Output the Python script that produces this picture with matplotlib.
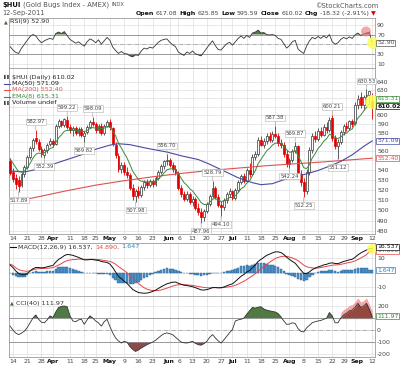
import numpy as np
import pandas as pd
import matplotlib
matplotlib.use('Agg')
import matplotlib.pyplot as plt
from matplotlib.patches import Ellipse
from matplotlib.transforms import ScaledTranslation
from matplotlib.ticker import FixedLocator, FixedFormatter, NullLocator

plt.rcParams['font.family'] = 'DejaVu Sans'

# trading days shown (US market holidays taken out)
holidays = ['2011-04-22', '2011-05-30', '2011-07-04', '2011-09-05']
days = pd.bdate_range('2011-03-11', '2011-09-12').drop(pd.to_datetime(holidays))

tick_dates = ['2011-03-14', '2011-03-21', '2011-03-28', '2011-04-01', '2011-04-11', '2011-04-18',
              '2011-04-25', '2011-05-02', '2011-05-09', '2011-05-16', '2011-05-23', '2011-06-01',
              '2011-06-06', '2011-06-13', '2011-06-20', '2011-06-27', '2011-07-01', '2011-07-11',
              '2011-07-18', '2011-07-25', '2011-08-01', '2011-08-08', '2011-08-15', '2011-08-22',
              '2011-08-29', '2011-09-01', '2011-09-12']
tick_text = ['14', '21', '28', 'Apr', '11', '18', '25', 'May', '9', '16', '23', 'Jun', '6', '13', '20',
             '27', 'Jul', '11', '18', '25', 'Aug', '8', '15', '22', '29', 'Sep', '12']

opens = [549, 538, 532, 530, 525, 536, 543, 554, 563, 574,
         570, 562, 556, 561, 568, 571, 568, 588, 593, 589,
         594, 586, 583, 585, 580, 584, 577, 581, 587, 592,
         590, 583, 588, 580, 588, 592, 585, 567, 555, 541,
         545, 538, 535, 522, 514, 519, 515, 523, 528, 525,
         529, 526, 532, 538, 544, 549, 551, 545, 541, 537,
         522, 516, 511, 516, 508, 511, 502, 498, 493, 499,
         506, 514, 522, 513, 505, 503, 510, 516, 519, 512,
         520, 528, 534, 529, 540, 536, 554, 557, 572, 567,
         571, 577, 572, 579, 576, 569, 567, 557, 546, 550,
         560, 565, 536, 528, 519, 538, 561, 577, 573, 582,
         578, 587, 583, 597, 574, 566, 570, 581, 588, 585,
         593, 591, 612, 621, 612, 622, 624, 617.08]
highs = [553, 542, 536, 534, 538, 545, 556, 566, 574, 582.97,
         573, 565, 563, 569, 574, 573, 590, 596, 595, 597,
         599.22, 590, 588, 588, 586, 587, 582, 589, 594, 598.09,
         592, 590, 591, 590, 595, 596, 587, 570, 558, 548,
         548, 543, 537, 526, 521, 524, 525, 530, 531, 531,
         531, 534, 540, 546, 551, 556.70, 553, 548, 545, 539,
         525, 519, 519, 518, 514, 513, 507, 502, 501, 508,
         516, 528.79, 524, 516, 509, 512, 518, 522, 520, 522,
         530, 536, 537, 542, 547, 557, 560, 575, 576, 574,
         580, 581, 582, 587.38, 580, 573, 570, 561, 553, 562,
         569.87, 567, 540, 532, 541, 564, 580, 582, 585, 586,
         590, 592, 598, 600.21, 578, 573, 583, 590, 592, 595,
         596, 615, 624, 627, 624, 630.53, 629, 625.85]
lows = [535, 528, 521, 517.89, 523, 533, 541, 552, 560, 568,
        560, 554, 552.39, 558, 566, 564, 567, 585, 586, 587,
        584, 580, 577, 578, 577, 575, 569.82, 579, 585, 588,
        580, 580, 578, 578, 586, 583, 566, 553, 538, 537,
        535, 532, 520, 510, 507.98, 512, 513, 520, 522, 523,
        523, 524, 530, 536, 541, 545, 543, 538, 535, 520,
        513, 509, 509, 506, 504, 500, 495, 487.96, 490, 497,
        504, 512, 511, 503, 494.10, 500, 507, 513, 510, 510,
        518, 526, 527, 528, 533, 535, 550, 555, 565, 563,
        568, 570, 570, 574, 566, 563, 554, 543, 542.24, 548,
        558, 533, 524, 512.25, 516, 535, 558, 570, 571, 575,
        576, 580, 581, 571, 562, 551.12, 568, 578, 582, 583,
        586, 589, 607, 608, 606, 615, 616, 595.59]
closes = [537, 531, 526, 524, 536, 543, 554, 563, 572, 571,
          562, 557, 561, 567, 571, 568, 588, 593, 589, 596,
          586, 583, 585, 580, 584, 578, 580, 587, 592, 590,
          583, 588, 580, 588, 592, 586, 568, 556, 541, 545,
          538, 535, 522, 514, 519, 515, 523, 528, 525, 529,
          526, 532, 538, 544, 549, 551, 545, 541, 537, 522,
          516, 511, 516, 508, 511, 502, 498, 493, 499, 506,
          514, 522, 513, 505, 503, 510, 516, 519, 512, 520,
          528, 534, 529, 540, 536, 554, 557, 572, 567, 571,
          577, 572, 579, 576, 569, 567, 557, 546, 550, 560,
          566, 536, 528, 519, 538, 561, 577, 573, 582, 578,
          587, 583, 595, 574, 566, 570, 581, 588, 585, 593,
          590, 612, 619, 612, 621, 624, 628.34, 610.02]

ema_start = 556.0  # EMA(8) level just before the first bar

ma50_idx = [0, 5, 10, 15, 20, 25, 30, 35, 38, 42, 48, 55, 60, 66, 70, 75, 80, 85, 88, 92,
            96, 100, 104, 108, 112, 116, 120, 124, 127]
ma50 = [539, 538, 541, 546, 551, 556, 562, 566.5, 568, 567, 563, 559, 555, 551, 546, 539,
        532, 527, 525, 526, 530, 533, 536, 539.5, 544, 549, 556, 565, 571.09]
ma200_idx = [0, 10, 20, 30, 40, 50, 60, 70, 80, 90, 100, 110, 120, 127]
ma200 = [507, 513, 519, 524.5, 529, 533, 536.5, 539.5, 542, 544.5, 546.5, 548.5, 550.8, 552.4]

rsi = [45, 38, 33, 31, 42, 50, 58, 66, 70, 67,
       59, 53, 57, 60, 62, 60, 72, 75, 72, 76,
       68, 60, 56, 52, 55, 50, 46, 55, 61, 58,
       53, 59, 50, 57, 64, 58, 44, 37, 31, 35,
       31, 30, 26, 24, 28, 27, 36, 42, 40, 44,
       42, 48, 54, 58, 60, 61, 54, 49, 45, 34,
       30, 27, 34, 31, 36, 30, 28, 26, 34, 42,
       50, 57, 47, 39, 38, 45, 51, 54, 48, 55,
       62, 67, 62, 68, 64, 73, 75, 79, 73, 74,
       70, 69, 70, 68, 62, 60, 51, 42, 47, 55,
       58, 40, 35, 31, 46, 57, 64, 61, 66, 62,
       67, 63, 70, 55, 50, 53, 60, 64, 61, 65,
       62, 69, 73, 68, 71, 73, 75, 52.90]

macd = [5.4, 3.6, 1.2, -0.5, -1.3, -1.4, -0.6, 1.2, 2.8, 3.6,
        3.6, 3.4, 3.6, 4.1, 4.6, 5.0, 7.3, 9.2, 10.4, 11.8,
        12.6, 12.4, 12.0, 11.3, 10.6, 9.7, 8.9, 8.9, 9.1, 9.1,
        8.7, 8.5, 7.8, 7.4, 7.1, 6.0, 3.6, 0.6, -2.5, -4.0,
        -5.8, -7.3, -9.4, -11.5, -12.6, -13.6, -13.9, -14.1, -14.0, -13.5,
        -12.9, -12.0, -10.8, -9.6, -8.6, -7.6, -7.0, -6.5, -6.4, -7.2,
        -7.9, -8.6, -8.8, -9.2, -9.6, -10.3, -11.0, -11.8, -11.9, -11.6,
        -11.0, -10.2, -10.2, -10.4, -10.3, -9.8, -9.0, -8.2, -7.6, -6.0,
        -4.2, -2.4, -1.2, 0.5, 1.5, 3.5, 5.4, 7.8, 9.2, 10.6,
        12.0, 12.8, 13.7, 14.4, 14.4, 13.9, 12.6, 10.7, 9.2, 7.8,
        6.6, 4.2, 1.8, -0.4, -0.6, 0.6, 2.2, 3.1, 4.0, 4.6,
        5.4, 5.8, 6.6, 6.8, 6.4, 6.3, 7.0, 7.8, 8.3, 8.9,
        9.3, 10.6, 12.3, 13.6, 14.7, 15.6, 16.6, 16.537]
macd_hist = [-0.5, -1.5, -2.2, -2.7, -2.8, -2.6, -1.6, -0.2, 0.8, 1.0,
             0.8, 0.5, 0.6, 1.0, 1.3, 1.5, 2.9, 3.8, 4.1, 4.3,
             4.2, 3.6, 2.9, 2.1, 1.2, 0.3, -0.3, -0.3, -0.2, -0.2,
             -0.5, -0.6, -1.0, -1.1, -1.1, -1.8, -3.4, -5.3, -6.8, -6.9,
             -7.3, -7.3, -7.7, -7.9, -7.1, -6.3, -5.0, -3.8, -2.7, -1.6,
             -0.7, 0.3, 1.4, 2.2, 2.6, 3.0, 2.9, 2.7, 2.2, 1.1,
             0.2, -0.4, -0.5, -0.7, -0.9, -1.2, -1.6, -2.0, -1.8, -1.3,
             -0.6, 0.1, 0.0, -0.2, 0.0, 0.4, 0.9, 1.4, 1.6, 2.6,
             3.6, 4.4, 4.6, 5.2, 4.8, 5.6, 6.0, 6.7, 6.6, 6.4,
             6.2, 5.6, 5.2, 4.6, 3.8, 2.8, 1.2, -0.6, -1.6, -2.4,
             -2.8, -4.2, -5.0, -5.6, -4.8, -3.0, -1.2, -0.1, 0.7, 1.0,
             1.4, 1.4, 1.8, 1.6, 1.0, 0.8, 1.2, 1.6, 1.6, 1.8,
             1.8, 2.4, 3.2, 3.4, 3.5, 3.2, 2.1, 1.647]

cci = [33, 0, -25, -37, -25, -8, 20, 61, 100, 126,
       90, 65, 61, 85, 118, 104, 150, 188, 197, 200,
       194, 118, 76, 70, 85, 90, 48, 85, 118, 100,
       76, 60, 33, 70, 90, 30, -23, -65, -90, -107,
       -93, -100, -135, -160, -177, -165, -149, -135, -121, -110,
       -99, -85, -65, -45, -30, -23, -30, -37, -59, -80,
       -99, -105, -107, -100, -93, -110, -121, -125, -112, -93,
       -60, -37, -65, -90, -107, -80, -51, -20, 5, 76,
       85, 90, 100, 132, 160, 188, 183, 190, 194, 175,
       166, 160, 155, 150, 138, 110, 76, 48, 50, 61,
       55, 13, -10, -15, 19, 40, 61, 70, 76, 80,
       90, 98, 146, 118, 61, 61, 100, 126, 140, 160,
       166, 190, 222, 188, 200, 222, 172, 111.97]

# marked highs / lows on the price panel
ann_idx = [3, 9, 12, 20, 26, 29, 44, 55, 67, 71, 74, 93, 98, 100, 103, 113, 115, 125]
ann_side = ['low', 'high', 'low', 'high', 'low', 'high', 'low', 'high', 'low', 'high', 'low',
            'high', 'low', 'high', 'low', 'high', 'low', 'high']

W, H = 400, 365
fig = plt.figure(figsize=(W / 100, H / 100), dpi=100)
rend = fig.canvas.get_renderer()


def fx(x):
    return x / W


def fy(y):
    return 1 - y / H


def run_text(x0, y0, pieces, size, gap=0.0, right=None):
    # lay text pieces side by side, starting at x0 (or ending at `right`)
    arts = []
    for p in pieces:
        txt, col, bold = p[:3]
        sz = p[3] if len(p) > 3 else size
        arts.append(fig.text(0, fy(y0), txt, fontsize=sz, color=col, va='center', ha='left',
                             fontweight='bold' if bold else 'normal'))
    widths = [a.get_window_extent(renderer=rend).width for a in arts]
    if right is not None:
        x0 = right - sum(widths) - gap * (len(arts) - 1)
    xx = x0
    for a, w in zip(arts, widths):
        a.set_x(fx(xx))
        xx += w + gap


x = np.arange(len(days))
o, hi, lo, c = (np.array(v, dtype=float) for v in (opens, highs, lows, closes))
tick_pos = days.get_indexer(pd.to_datetime(tick_dates))

ax_rsi = fig.add_axes([fx(9), fy(68), 366 / W, 50 / H])
ax_px = fig.add_axes([fx(9), fy(234), 366 / W, 166 / H])
ax_macd = fig.add_axes([fx(9), fy(296), 366 / W, 53 / H])
ax_cci = fig.add_axes([fx(9), fy(357), 366 / W, 61 / H])

GRID = '#dedede'
for ax in (ax_rsi, ax_px, ax_macd, ax_cci):
    ax.set_xlim(-0.4, 128)
    ax.xaxis.set_major_locator(FixedLocator(tick_pos))
    ax.xaxis.set_major_formatter(FixedFormatter(tick_text))
    ax.yaxis.tick_right()
    ax.tick_params(length=0, labelsize=4.4, labelcolor='#444', pad=1.5)
    ax.tick_params(axis='x', labelbottom=False)
    ax.grid(True, color=GRID, lw=0.5)
    ax.set_axisbelow(True)
    for s in ax.spines.values():
        s.set_color('#9a9a9a')
        s.set_linewidth(0.6)

nudge = {'29': -1.8, 'Sep': 2.2, 'Jun': -1.0, '6': 1.0}
for ax in (ax_px, ax_cci):
    ax.tick_params(axis='x', labelbottom=True, pad=1.2)
    for lab, t in zip(ax.get_xticklabels(), tick_text):
        if not t.isdigit():
            lab.set_fontweight('bold')
            lab.set_color('#111')
    labs = ax.get_xticklabels()
    for k in (11, 12, 24, 25):
        labs[k].set_transform(labs[k].get_transform() +
                              ScaledTranslation(nudge[tick_text[k]] / 100, 0, fig.dpi_scale_trans))


def tag(ax, yv, text, col, bold=False, z=6):
    ax.text(1.006, yv, text, transform=ax.get_yaxis_transform(), fontsize=4.4, color=col,
            va='center', ha='left', fontweight='bold' if bold else 'normal', clip_on=False, zorder=z,
            bbox=dict(boxstyle='square,pad=0.12', fc='white', ec=col, lw=0.5))


def glow(ax, cx, cy, r, col, a):
    e = Ellipse((fx(cx), fy(cy)), 2 * r / W, 2 * r / H, transform=fig.transFigure,
                fc=col, ec='none', alpha=a, clip_on=False, zorder=5)
    ax.add_artist(e)


# ---- RSI
rsi_a = np.array(rsi)
ax_rsi.set_ylim(1, 104)
ax_rsi.yaxis.set_major_locator(FixedLocator([10, 30, 50, 70, 90]))
ax_rsi.yaxis.set_major_formatter(FixedFormatter(['10', '30', '', '70', '90']))
ax_rsi.axhline(70, color='#8c8c8c', lw=0.6)
ax_rsi.axhline(30, color='#8c8c8c', lw=0.6)
ax_rsi.axhline(50, color='#9a9a9a', lw=0.5, ls='-.')
ax_rsi.fill_between(x, rsi_a, 70, where=rsi_a > 70, interpolate=True, color='#4f7a43', lw=0)
ax_rsi.fill_between(x, rsi_a, 30, where=rsi_a < 30, interpolate=True, color='#8d4a48', lw=0)
ax_rsi.plot(x, rsi_a, color='#333', lw=0.6)
fig.text(fx(4), fy(21.5), '\u25b2', fontsize=3.5, color='#3d6b35', va='center')
fig.text(fx(10), fy(21.5), 'RSI(9) 52.90', fontsize=4.6, color='#333', va='center')
glow(ax_rsi, 366, 31.5, 5, '#f07a7a', 0.65)
glow(ax_rsi, 373, 43, 6, '#ffff55', 0.85)
tag(ax_rsi, 52.9, '52.90', '#555')

# ---- price
ax_px.set_yscale('log')
ax_px.set_ylim(477.5, 657)
yt = list(range(480, 641, 10))
ax_px.yaxis.set_major_locator(FixedLocator(yt))
ax_px.yaxis.set_minor_locator(NullLocator())
ax_px.yaxis.set_major_formatter(FixedFormatter(['' if v in (550, 570, 610, 620) else str(v) for v in yt]))

up = c >= o
wick_col = np.where(up, '#444', '#e00000')
ax_px.vlines(x, lo, hi, colors=wick_col, lw=0.6, zorder=2)
ax_px.bar(x[up], c[up] - o[up], bottom=o[up], width=0.66, facecolor='white', edgecolor='#333',
          lw=0.5, zorder=3)
ax_px.bar(x[~up], o[~up] - c[~up], bottom=c[~up], width=0.66, facecolor='#e00000', edgecolor='#e00000',
          lw=0.5, zorder=3)

ema = []
prev = ema_start
for v in c:
    prev = prev + 2.0 / 9.0 * (v - prev)
    ema.append(prev)

ax_px.plot(ma200_idx, ma200, color='#e05050', lw=0.8, zorder=4)
ax_px.plot(ma50_idx, ma50, color='#4a4aa0', lw=0.8, zorder=4)
ax_px.plot(x, ema, color='#3a8a3a', lw=0.7, zorder=4)

for i, side in zip(ann_idx, ann_side):
    val = hi[i] if side == 'high' else lo[i]
    dy = 6 if side == 'high' else -6
    ax_px.annotate('%.2f' % val, xy=(i, val), xytext=(0, dy), textcoords='offset points',
                   ha='center', va='center', fontsize=3.8, color='#444', zorder=5,
                   bbox=dict(boxstyle='square,pad=0.15', fc='white', ec='#b0b0b0', lw=0.4),
                   arrowprops=dict(arrowstyle='-', color='#999', lw=0.4, shrinkA=0, shrinkB=0))

leg_rows = [(77, '$HUI (Daily) 610.02', '#222', None),
            (83.5, 'MA(50) 571.09', '#222', '#4a4aa0'),
            (90, 'MA(200) 552.40', '#e05050', '#e05050'),
            (96.5, 'EMA(8) 615.31', '#3a8a3a', '#3a8a3a'),
            (103, 'Volume undef', '#222', None)]
for yy, txt, tc, lc in leg_rows:
    fig.text(fx(12), fy(yy), txt, fontsize=4.6, color=tc, va='center', ha='left')
    if lc:
        fig.add_artist(plt.Line2D([fx(4), fx(10)], [fy(yy), fy(yy)], color=lc, lw=0.8))
    else:
        fig.text(fx(4), fy(yy), '\u258c\u258c', fontsize=3, color='#444', va='center', ha='left')

glow(ax_px, 372, 102, 7, '#ffff55', 0.85)
tag(ax_px, 619, '615.31', '#3a8a3a')
tag(ax_px, 610.5, '610.02', '#111', bold=True)
tag(ax_px, 571.09, '571.09', '#4a4aa0')
tag(ax_px, 552.4, '552.40', '#e05050')

# ---- MACD
m = np.array(macd)
hgt = np.array(macd_hist)
sig = m - hgt
ax_macd.set_ylim(-16, 20.5)
ax_macd.yaxis.set_major_locator(FixedLocator([-10, 0, 10]))
ax_macd.yaxis.set_major_formatter(FixedFormatter(['-10', '', '10']))
ax_macd.bar(x, hgt, width=0.85, color='#4a92c9', edgecolor='#2b5f8e', lw=0.3, zorder=2)
ax_macd.plot(x, sig, color='#e04848', lw=0.7, zorder=3)
ax_macd.plot(x, m, color='#111', lw=0.7, zorder=3)
fig.add_artist(plt.Line2D([fx(10), fx(16)], [fy(247), fy(247)], color='#111', lw=0.8))
run_text(18, 247, [('MACD(12,26,9) 16.537,', '#333', False), ('14.890,', '#e04848', False),
                   ('1.647', '#2f86b8', False)], 4.6, gap=2.5)
glow(ax_macd, 372, 249, 5, '#ffff55', 0.85)
tag(ax_macd, 15.3, '14.890', '#e04848', z=6)
tag(ax_macd, 17.8, '16.537', '#111', z=7)
tag(ax_macd, 1.9, '1.647', '#2f86b8')

# ---- CCI
cc = np.array(cci, dtype=float)
ax_cci.set_ylim(-223, 283)
ax_cci.yaxis.set_major_locator(FixedLocator([-200, -100, 0, 100, 200]))
ax_cci.yaxis.set_major_formatter(FixedFormatter(['-200', '-100', '0', '', '200']))
ax_cci.axhline(100, color='#8c8c8c', lw=0.6)
ax_cci.axhline(-100, color='#8c8c8c', lw=0.6)
ax_cci.axhline(0, color='#9a9a9a', lw=0.5, ls='-.')
late = x >= 116
ax_cci.fill_between(x[late], 95, cc[late] + 45, color='#f08a8a', alpha=0.75, lw=0, zorder=1)
ax_cci.fill_between(x, cc, 100, where=(cc > 100) & ~late, interpolate=True, color='#4f7a43', lw=0)
ax_cci.fill_between(x, cc, 100, where=(cc > 100) & (x >= 115), interpolate=True, color='#94483f', lw=0)
ax_cci.fill_between(x, cc, -100, where=cc < -100, interpolate=True, color='#8d4a48', lw=0)
ax_cci.plot(x, cc, color='#333', lw=0.6, zorder=3)
fig.text(fx(10), fy(303), '\u25b2', fontsize=3.5, color='#3d6b35', va='center')
fig.text(fx(16), fy(303), 'CCI(40) 111.97', fontsize=4.6, color='#333', va='center')
tag(ax_cci, 115, '111.97', '#3a8a3a')

# ---- header
run_text(2, 5, [('$HUI', '#111', True), ('(Gold Bugs Index - AMEX)', '#555', False),
                ('INDX', '#555', False, 3.8)], 4.9, gap=2.5)
fig.text(fx(378), fy(6), '\u00a9StockCharts.com', fontsize=4.8, color='#555', va='center', ha='right')
fig.text(fx(2), fy(13), '12-Sep-2011', fontsize=4.8, color='#555', va='center')
run_text(0, 13.5, [('Open', '#111', True), ('617.08', '#444', False), ('High', '#111', True),
                   ('625.85', '#444', False), ('Low', '#111', True), ('595.59', '#444', False),
                   ('Close', '#111', True), ('610.02', '#444', False), ('Chg', '#111', True),
                   ('-18.32 (-2.91%)', '#444', False), ('\u25bc', '#e00000', False)],
         4.5, gap=2.0, right=376)

fig.savefig('out.png', dpi=100)
